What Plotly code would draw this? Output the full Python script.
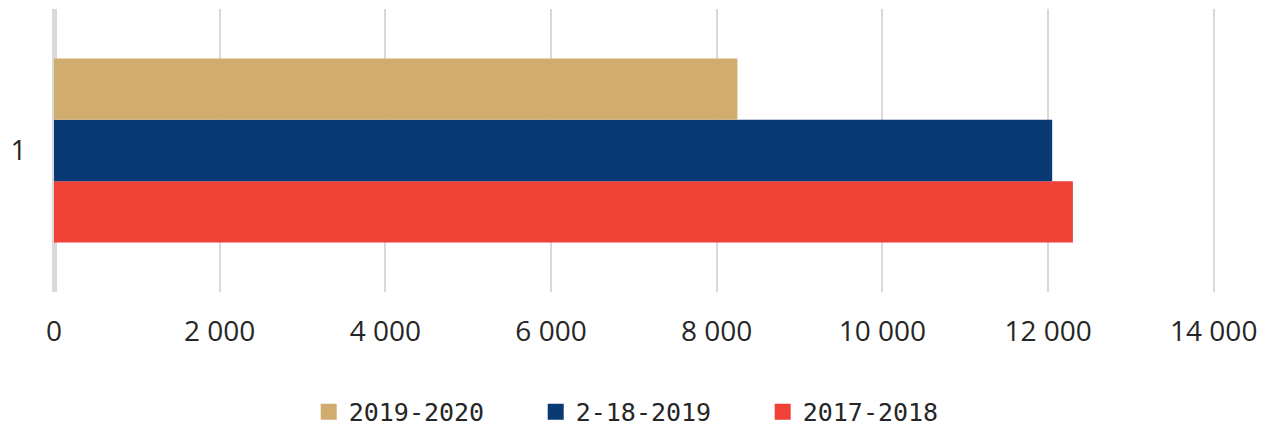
import plotly.graph_objects as go

categories = ["1"]
series_names = ["2019-2020", "2-18-2019", "2017-2018"]
series_values = {
    "2019-2020": [8250],
    "2-18-2019": [12050],
    "2017-2018": [12300],
}
series_colors = {
    "2019-2020": "#D0AC6E",
    "2-18-2019": "#093A73",
    "2017-2018": "#EF4136",
}
x_ticks = [0, 2000, 4000, 6000, 8000, 10000, 12000, 14000]

fig = go.Figure()
# bars: first trace drawn at bottom in horizontal grouping
for name in reversed(series_names):
    fig.add_trace(go.Bar(
        y=categories, x=series_values[name], name=name, orientation="h",
        marker=dict(color=series_colors[name], line=dict(width=0)),
        showlegend=False,
    ))
# legend entries
for name in series_names:
    fig.add_trace(go.Scatter(
        x=[None], y=[None], mode="markers", name=name,
        marker=dict(symbol="square", size=16, color=series_colors[name]),
        showlegend=True,
    ))

fig.update_layout(
    width=1263, height=419,
    margin=dict(l=46, r=49, t=1, b=135, autoexpand=False),
    paper_bgcolor="white", plot_bgcolor="white",
    barmode="group", bargap=0.35,
    separators=". ",
    font=dict(family="Open Sans", size=28, color="#262626"),
    legend=dict(
        orientation="h", x=0.5096, xanchor="center", y=-0.424, yanchor="middle",
        font=dict(family="DejaVu Sans Mono", size=25, color="#262626"),
        itemsizing="trace", traceorder="normal",
        entrywidth=182, entrywidthmode="pixels",
    ),
    xaxis=dict(
        range=[0, 14100], tickvals=x_ticks, tickformat=",d",
        showgrid=True, gridcolor="#D9D9D9", gridwidth=2,
        zeroline=True, zerolinecolor="#D9D9D9", zerolinewidth=5,
        showline=False, ticks="outside", ticklen=14, tickcolor="rgba(0,0,0,0)",
        automargin=False, fixedrange=True,
    ),
    yaxis=dict(
        type="category", showgrid=False, zeroline=False, showline=False,
        ticks="outside", ticklen=21, tickcolor="rgba(0,0,0,0)",
        automargin=False, fixedrange=True,
    ),
)

fig.write_html("out.html")
